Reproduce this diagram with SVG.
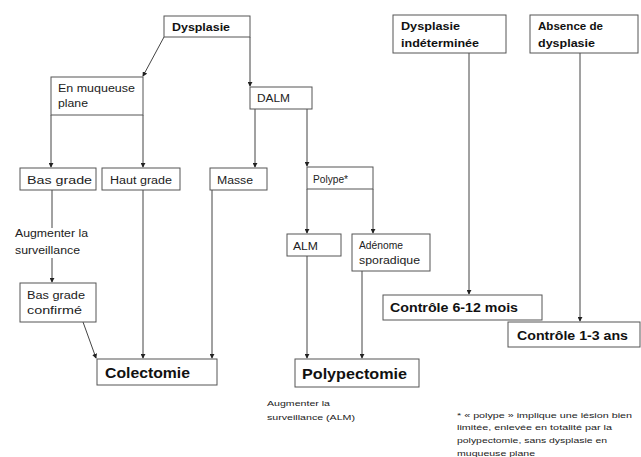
<svg xmlns="http://www.w3.org/2000/svg" width="641" height="457" viewBox="0 0 641 457">
<style>
.box{fill:#fff;stroke:#555;stroke-width:1}
text{font-family:"Liberation Sans",Arial,sans-serif;fill:#222}
.t{font-size:10px}
.f{font-size:8px}
.b{font-weight:bold;fill:#111}
.c{fill:none;stroke:#444;stroke-width:1}
</style>
<defs>
<marker id="ah" viewBox="0 0 6 6" refX="5" refY="3" markerWidth="5" markerHeight="5" orient="auto">
<path d="M0,0 L6,3 L0,6 z" fill="#222"/>
</marker>
</defs>
<rect width="641" height="457" fill="#fff"/>
<g id="connectors" class="c" marker-end="url(#ah)">
<line x1="164" y1="37" x2="143" y2="76"/>
<line x1="250" y1="37" x2="250" y2="86"/>
<line x1="51" y1="115" x2="51" y2="167"/>
<line x1="143" y1="115" x2="143" y2="167"/>
<line x1="255" y1="109" x2="255" y2="167"/>
<line x1="307" y1="109" x2="307" y2="166"/>
<line x1="307" y1="189" x2="307" y2="233"/>
<line x1="373" y1="189" x2="373" y2="233"/>
<line x1="52" y1="190" x2="52" y2="228" marker-end="none"/>
<line x1="52" y1="258" x2="52" y2="282"/>
<line x1="83" y1="322" x2="96" y2="358"/>
<line x1="143" y1="190" x2="143" y2="358"/>
<line x1="212" y1="190" x2="212" y2="358"/>
<line x1="307" y1="256" x2="307" y2="358"/>
<line x1="362" y1="271" x2="362" y2="358"/>
<line x1="469" y1="53" x2="469" y2="294"/>
<line x1="580" y1="53" x2="580" y2="321"/>
</g>
<g id="dysplasie"><rect class="box" x="164" y="16" width="86" height="21"/><text class="t b" x="172" y="31" textLength="58" lengthAdjust="spacingAndGlyphs">Dysplasie</text></g>
<g id="muqueuse-plane"><rect class="box" x="51" y="77" width="92" height="38"/><text class="t" x="58" y="92" textLength="77" lengthAdjust="spacingAndGlyphs">En muqueuse</text><text class="t" x="58" y="107" textLength="30" lengthAdjust="spacingAndGlyphs">plane</text></g>
<g id="dalm"><rect class="box" x="250" y="87" width="62" height="22"/><text class="t" x="257" y="102" textLength="33" lengthAdjust="spacingAndGlyphs">DALM</text></g>
<g id="bas-grade"><rect class="box" x="20" y="168" width="76" height="22"/><text class="t" x="27" y="184" textLength="65" lengthAdjust="spacingAndGlyphs">Bas grade</text></g>
<g id="haut-grade"><rect class="box" x="102" y="168" width="78" height="22"/><text class="t" x="110" y="184" textLength="62" lengthAdjust="spacingAndGlyphs">Haut grade</text></g>
<g id="masse"><rect class="box" x="210" y="168" width="57" height="22"/><text class="t" x="217" y="184" textLength="36" lengthAdjust="spacingAndGlyphs">Masse</text></g>
<g id="polype"><rect class="box" x="307" y="167" width="66" height="22"/><text class="t" x="313" y="183" textLength="35" lengthAdjust="spacingAndGlyphs">Polype*</text></g>
<g id="alm"><rect class="box" x="287" y="234" width="54" height="22"/><text class="t" x="293" y="250" textLength="25" lengthAdjust="spacingAndGlyphs">ALM</text></g>
<g id="adenome"><rect class="box" x="352" y="234" width="78" height="37"/><text class="t" x="359" y="249" textLength="44" lengthAdjust="spacingAndGlyphs">Adénome</text><text class="t" x="359" y="264" textLength="61" lengthAdjust="spacingAndGlyphs">sporadique</text></g>
<g id="augmenter"><text class="t" x="15" y="237" textLength="73" lengthAdjust="spacingAndGlyphs">Augmenter la</text><text class="t" x="15" y="254" textLength="65" lengthAdjust="spacingAndGlyphs">surveillance</text></g>
<g id="bas-grade-confirme"><rect class="box" x="20" y="283" width="76" height="39"/><text class="t" x="27" y="299" textLength="58" lengthAdjust="spacingAndGlyphs">Bas grade</text><text class="t" x="27" y="314" textLength="55" lengthAdjust="spacingAndGlyphs">confirmé</text></g>
<g id="colectomie"><rect class="box" x="97" y="359" width="120" height="26"/><text class="b" x="105" y="378" font-size="15" textLength="85" lengthAdjust="spacingAndGlyphs">Colectomie</text></g>
<g id="polypectomie"><rect class="box" x="295" y="359" width="124" height="28"/><text class="b" x="302" y="379" font-size="15" textLength="105" lengthAdjust="spacingAndGlyphs">Polypectomie</text></g>
<g id="augmenter-alm"><text class="f" x="267" y="406" textLength="63" lengthAdjust="spacingAndGlyphs">Augmenter la</text><text class="f" x="267" y="420" textLength="88" lengthAdjust="spacingAndGlyphs">surveillance (ALM)</text></g>
<g id="dysplasie-indeterminee"><rect class="box" x="393" y="15" width="113" height="38"/><text class="t b" x="401" y="30" textLength="59" lengthAdjust="spacingAndGlyphs">Dysplasie</text><text class="t b" x="401" y="47" textLength="78" lengthAdjust="spacingAndGlyphs">indéterminée</text></g>
<g id="absence"><rect class="box" x="530" y="15" width="108" height="38"/><text class="t b" x="538" y="30" textLength="65" lengthAdjust="spacingAndGlyphs">Absence de</text><text class="t b" x="538" y="47" textLength="57" lengthAdjust="spacingAndGlyphs">dysplasie</text></g>
<g id="controle-6-12"><rect class="box" x="383" y="295" width="159" height="25"/><text class="b" x="390" y="312" font-size="13" textLength="128" lengthAdjust="spacingAndGlyphs">Contrôle 6-12 mois</text></g>
<g id="controle-1-3"><rect class="box" x="508" y="322" width="132" height="25"/><text class="b" x="517" y="340" font-size="13" textLength="111" lengthAdjust="spacingAndGlyphs">Contrôle 1-3 ans</text></g>
<g id="footnote"><text class="f" x="457" y="418" textLength="175" lengthAdjust="spacingAndGlyphs">* « polype » implique une lésion bien</text><text class="f" x="457" y="430" textLength="155" lengthAdjust="spacingAndGlyphs">limitée, enlevée en totalité par la</text><text class="f" x="457" y="443" textLength="150" lengthAdjust="spacingAndGlyphs">polypectomie, sans dysplasie en</text><text class="f" x="457" y="456" textLength="78" lengthAdjust="spacingAndGlyphs">muqueuse plane</text></g>
</svg>
